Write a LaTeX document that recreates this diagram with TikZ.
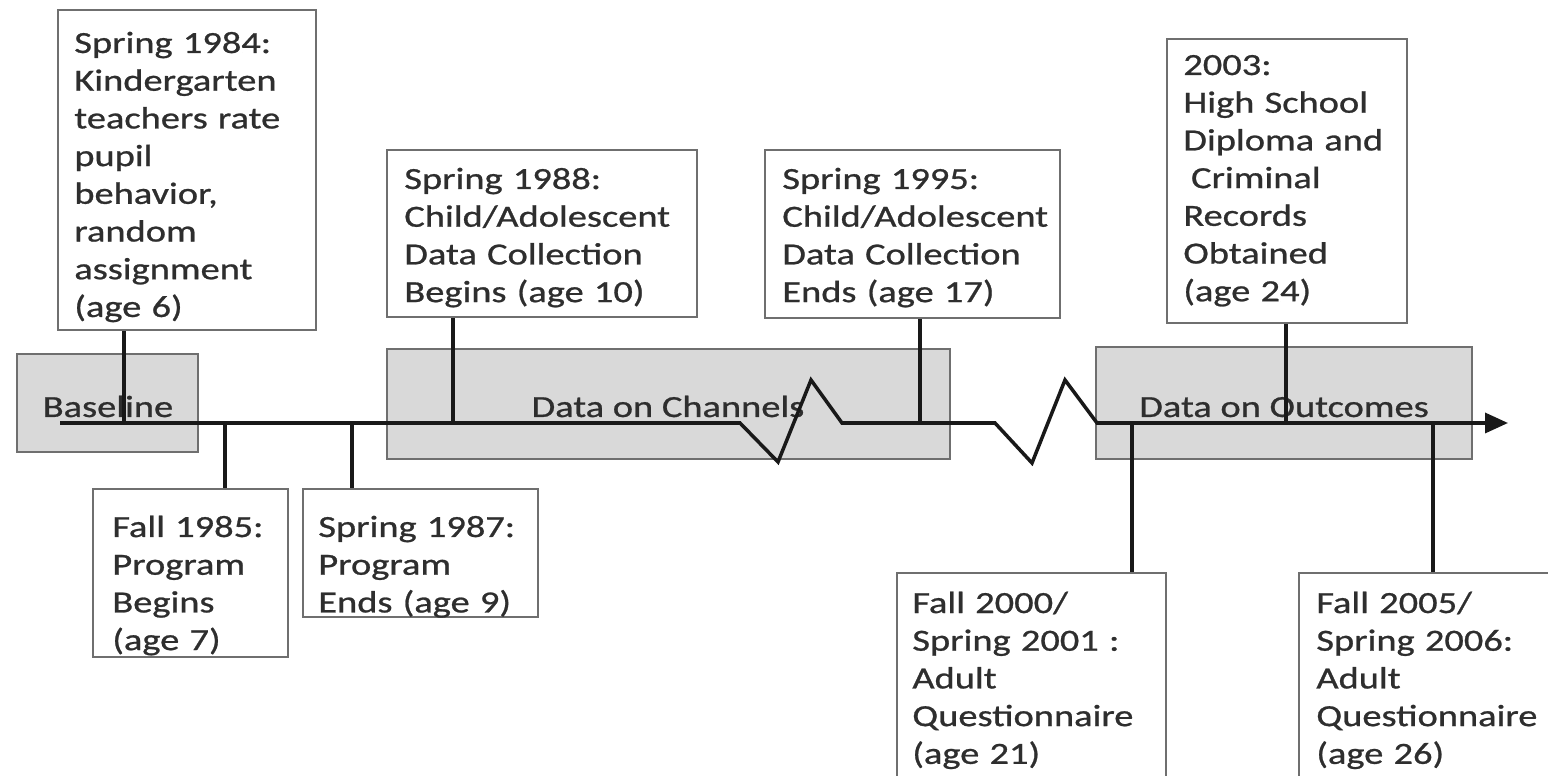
\documentclass[tikz,border=0pt]{standalone}
\usepackage{fontspec}
\setmainfont{Carlito}[FakeStretch=1.25, FakeBold=0.8]
\usepackage{tikz}
\usetikzlibrary{arrows.meta, fit}
\usepackage{xcolor}
\definecolor{boxline}{HTML}{6F6F6F}
\definecolor{phasefill}{HTML}{D9D9D9}
\definecolor{ink}{HTML}{2E2E2E}
\tikzstyle{event} = [rectangle, draw=boxline, line width=1.3pt, fill=white, inner sep=0pt]
\tikzstyle{phase} = [rectangle, draw=boxline, line width=1.3pt, fill=phasefill, inner sep=0pt]
\tikzstyle{evtext} = [anchor=base west, align=left, inner sep=0pt, text=ink]
\tikzstyle{phasetext} = [anchor=base, inner sep=0pt, text=ink]
\tikzstyle{stem} = [line width=2pt, black!90]
\tikzstyle{timeline} = [line width=2pt, black!90, -{Triangle[length=4.6mm, width=4mm]}]

\begin{document}
\begin{tikzpicture}[x=0.02cm, y=-0.02cm, every node/.style={font=\fontsize{17.5}{21.46}\selectfont}]
  \useasboundingbox (0,0) rectangle (1548,776);
  \clip (0,0) rectangle (1548,776);

  \node[phase, fit={(17,354) (198,452)}] (base) {};
  \node[phase, fit={(387,349) (950,459)}] (channels) {};
  \node[phase, fit={(1096,347) (1472,459)}] (outcomes) {};
  \node[phasetext] (basetxt) at (108,417) {Baseline};
  \node[phasetext] (channelstxt) at (668,417) {Data on Channels};
  \node[phasetext] (outcomestxt) at (1284,417) {Data on Outcomes};

  \node[event, fit={(58,10) (316,330)}] (rating) {};
  \node[event, fit={(93,489) (288,657)}] (progbeg) {};
  \node[event, fit={(303,489) (538,617)}] (progend) {};
  \node[event, fit={(387,150) (697,317)}] (chanbeg) {};
  \node[event, fit={(765,150) (1060,318)}] (chanend) {};
  \node[event, fit={(1167,39) (1407,323)}] (records) {};
  \node[event, fit={(897,573) (1166,800)}] (adult21) {};
  \node[event, fit={(1299,573) (1570,800)}] (adult26) {};

  \node[evtext, text width=4.7cm] (ratingtxt) at (74,53) {Spring 1984:\\Kindergarten\\teachers rate\\pupil\\behavior,\\random\\assignment\\(age 6)};
  \node[evtext, text width=3.4cm] (progbegtxt) at (112,537) {Fall 1985:\\Program\\Begins\\(age 7)};
  \node[evtext, text width=4.3cm] (progendtxt) at (318,537) {Spring 1987:\\Program\\Ends (age 9)};
  \node[evtext, text width=5.7cm] (chanbegtxt) at (404,189) {Spring 1988:\\Child/Adolescent\\Data Collection\\Begins (age 10)};
  \node[evtext, text width=5.5cm] (chanendtxt) at (782,189) {Spring 1995:\\Child/Adolescent\\Data Collection\\Ends (age 17)};
  \node[evtext, text width=4.4cm] (recordstxt) at (1183,75) {2003:\\High School\\Diploma and\\\hspace*{0.25em}Criminal\\Records\\Obtained\\(age 24)};
  \node[evtext, text width=5cm] (adult21txt) at (912,613) {Fall 2000/\\Spring 2001 :\\Adult\\Questionnaire\\(age 21)};
  \node[evtext, text width=4.6cm] (adult26txt) at (1316,613) {Fall 2005/\\Spring 2006:\\Adult\\Questionnaire\\(age 26)};

  \coordinate (start) at (60,423);
  \coordinate (finish) at (1508,423);
  \coordinate (atrating) at (124,423);
  \coordinate (atprogbeg) at (225,423);
  \coordinate (atprogend) at (352,423);
  \coordinate (atchanbeg) at (453,423);
  \coordinate (atchanend) at (920,423);
  \coordinate (atadult21) at (1132,423);
  \coordinate (atrecords) at (1286,423);
  \coordinate (atadult26) at (1433,423);

  \draw[timeline] (start) -- (740,423) -- (778,462) -- (811,380) -- (842,423) -- (995,423) -- (1032,463) -- (1065,380) -- (1097,423) -- (finish);

  \draw[stem] (rating.south -| atrating) -- (atrating);
  \draw[stem] (atprogbeg) -- (progbeg.north -| atprogbeg);
  \draw[stem] (atprogend) -- (progend.north -| atprogend);
  \draw[stem] (chanbeg.south -| atchanbeg) -- (atchanbeg);
  \draw[stem] (chanend.south -| atchanend) -- (atchanend);
  \draw[stem] (atadult21) -- (adult21.north -| atadult21);
  \draw[stem] (records.south -| atrecords) -- (atrecords);
  \draw[stem] (atadult26) -- (adult26.north -| atadult26);
\end{tikzpicture}
\end{document}
